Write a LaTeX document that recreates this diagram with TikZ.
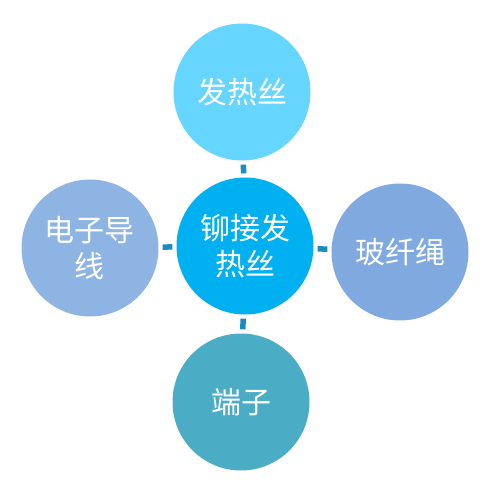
\documentclass[tikz,border=0pt]{standalone}
\usepackage{fontspec}
\newfontfamily\cjk{Noto Sans CJK SC}
\usepackage{tikz}

\definecolor{topblue}{HTML}{66D5FF}
\definecolor{hubblue}{HTML}{00B0F0}
\definecolor{leftblue}{HTML}{8EB4E3}
\definecolor{rightblue}{HTML}{7FA9DF}
\definecolor{bottomteal}{HTML}{4BACC6}
\definecolor{dashblue}{HTML}{1A8CBF}

\tikzset{
    bubble/.style={circle, minimum size=137pt, inner sep=0pt, text=white, align=center,
        font=\cjk\fontsize{30}{36}\selectfont},
    link/.style={draw=dashblue, line width=5.5pt, shorten <=4pt, shorten >=4pt}
}

\begin{document}
\begin{tikzpicture}[x=1pt, y=-1pt]
    % page size
    \useasboundingbox (0, 0) rectangle (501, 492);

    % draw circles
    \node[bubble, fill=hubblue]    (hub)    at (245, 246) {铆接发\\热丝};
    \node[bubble, fill=topblue]    (wire)   at (242, 92)  {发热丝};
    \node[bubble, fill=leftblue]   (lead)   at (90, 248)  {电子导\\线};
    \node[bubble, fill=rightblue]  (rope)   at (400, 252) {玻纤绳};
    \node[bubble, fill=bottomteal] (term)   at (241, 402) {端子};

    % draw short links
    \draw[link] (hub) -- (wire);
    \draw[link] (hub) -- (lead);
    \draw[link] (hub) -- (rope);
    \draw[link] (hub) -- (term);
\end{tikzpicture}
\end{document}
